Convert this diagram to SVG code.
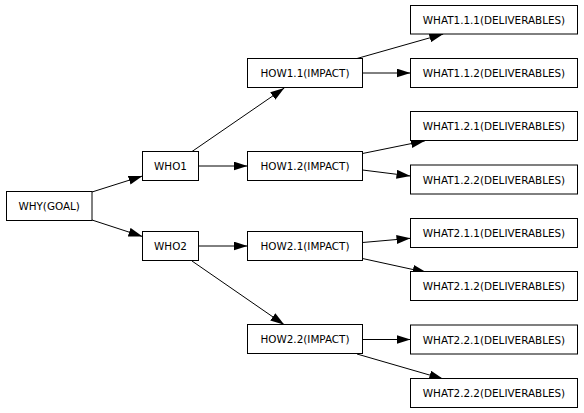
<svg xmlns="http://www.w3.org/2000/svg" width="584" height="413" viewBox="0 0 584 413">
<style>
.n rect{fill:#fff;stroke:#000;stroke-width:1}
.n text{font-family:"DejaVu Sans",sans-serif;font-size:10.4px;fill:#000;text-anchor:middle;dominant-baseline:central}
.e line{stroke:#000;stroke-width:1;marker-end:url(#ah)}
</style>
<defs>
<marker id="ah" markerWidth="14" markerHeight="9" refX="14" refY="4.5" orient="auto" markerUnits="userSpaceOnUse">
<polygon points="0,0 14,4.5 0,9" fill="#000"/>
</marker>
</defs>
<rect width="584" height="413" fill="#fff"/>
<g id="edges" class="e">
<line x1="92" y1="192" x2="142.5" y2="176"/>
<line x1="92" y1="220" x2="142.5" y2="236.5"/>
<line x1="192" y1="151.5" x2="284.3" y2="88"/>
<line x1="198.5" y1="166" x2="247.5" y2="166"/>
<line x1="198.5" y1="246" x2="247.5" y2="246"/>
<line x1="192" y1="261" x2="284.3" y2="324.8"/>
<line x1="357" y1="58.5" x2="443.3" y2="34"/>
<line x1="362.5" y1="73" x2="410.5" y2="73"/>
<line x1="362.5" y1="153.5" x2="425" y2="140.8"/>
<line x1="362.5" y1="170" x2="410.5" y2="176"/>
<line x1="362.5" y1="242.5" x2="410.5" y2="238.3"/>
<line x1="362.5" y1="258.5" x2="426.7" y2="272.5"/>
<line x1="362.5" y1="339.5" x2="410.5" y2="339.5"/>
<line x1="357" y1="354" x2="443.3" y2="379"/>
</g>
<g id="why" class="n"><rect x="6.5" y="191.5" width="85.5" height="29"/><text x="49.2" y="206">WHY(GOAL)</text></g>
<g id="who1" class="n"><rect x="142.5" y="151.5" width="56" height="29"/><text x="170.5" y="166">WHO1</text></g>
<g id="who2" class="n"><rect x="142.5" y="231.5" width="56" height="29"/><text x="170.5" y="246">WHO2</text></g>
<g id="how11" class="n"><rect x="247.5" y="58.5" width="115" height="29"/><text x="305" y="73">HOW1.1(IMPACT)</text></g>
<g id="how12" class="n"><rect x="247.5" y="151.5" width="115" height="29"/><text x="305" y="166">HOW1.2(IMPACT)</text></g>
<g id="how21" class="n"><rect x="247.5" y="231.5" width="115" height="29"/><text x="305" y="246">HOW2.1(IMPACT)</text></g>
<g id="how22" class="n"><rect x="247.5" y="324.5" width="115" height="29"/><text x="305" y="339">HOW2.2(IMPACT)</text></g>
<g id="what111" class="n"><rect x="410.5" y="5.5" width="167" height="28.5"/><text x="494" y="19.7">WHAT1.1.1(DELIVERABLES)</text></g>
<g id="what112" class="n"><rect x="410.5" y="58.5" width="167" height="29"/><text x="494" y="73">WHAT1.1.2(DELIVERABLES)</text></g>
<g id="what121" class="n"><rect x="410.5" y="111.5" width="167" height="29"/><text x="494" y="126">WHAT1.2.1(DELIVERABLES)</text></g>
<g id="what122" class="n"><rect x="410.5" y="165" width="167" height="29"/><text x="494" y="179.5">WHAT1.2.2(DELIVERABLES)</text></g>
<g id="what211" class="n"><rect x="410.5" y="218.5" width="167" height="29"/><text x="494" y="233">WHAT2.1.1(DELIVERABLES)</text></g>
<g id="what212" class="n"><rect x="410.5" y="271.5" width="167" height="29"/><text x="494" y="286">WHAT2.1.2(DELIVERABLES)</text></g>
<g id="what221" class="n"><rect x="410.5" y="325" width="167" height="29"/><text x="494" y="339.5">WHAT2.2.1(DELIVERABLES)</text></g>
<g id="what222" class="n"><rect x="410.5" y="378.5" width="167" height="29"/><text x="494" y="393">WHAT2.2.2(DELIVERABLES)</text></g>
</svg>
